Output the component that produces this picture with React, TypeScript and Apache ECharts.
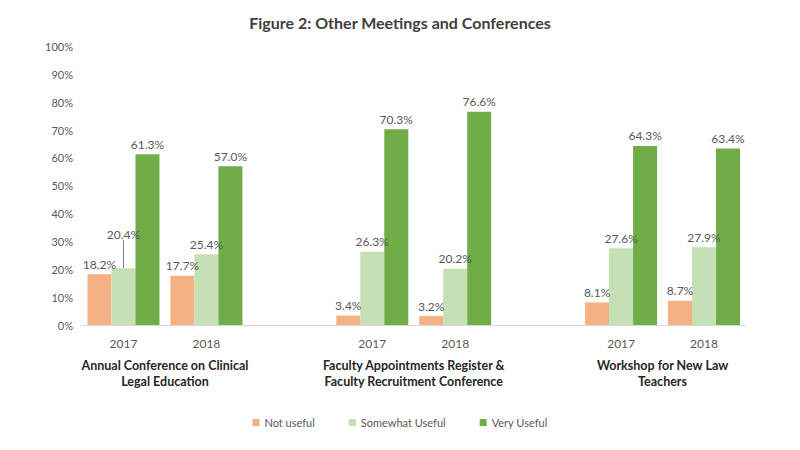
import React, { useEffect, useRef } from "react";
import * as echarts from "echarts";

const title = "Figure 2: Other Meetings and Conferences";
const groups = [
  "Annual Conference on Clinical\nLegal Education",
  "Faculty Appointments Register &\nFaculty Recruitment Conference",
  "Workshop for New Law\nTeachers",
];
const years = ["2017", "2018"];
const seriesNames = ["Not useful", "Somewhat Useful", "Very Useful"];
const notUseful = [18.2, 17.7, 3.4, 3.2, 8.1, 8.7];
const somewhatUseful = [20.4, 25.4, 26.3, 20.2, 27.6, 27.9];
const veryUseful = [61.3, 57.0, 70.3, 76.6, 64.3, 63.4];
const colors = ["#F4B183", "#C5E0B4", "#70AD47"];
const yTicks = [0, 10, 20, 30, 40, 50, 60, 70, 80, 90, 100];

function expand(vals: number[]): (number | null)[] {
  const out: (number | null)[] = [];
  groups.forEach((_, gi) => {
    years.forEach((_, yi) => out.push(vals[gi * years.length + yi]));
    if (gi < groups.length - 1) out.push(null);
  });
  return out;
}

const categories: string[] = [];
const groupPos: Record<number, string> = {};
groups.forEach((g, gi) => {
  const start = categories.length;
  years.forEach((y) => categories.push(y));
  groupPos[start + years.length / 2] = g;
  if (gi < groups.length - 1) categories.push("");
});

export default function App() {
  const ref = useRef<HTMLDivElement>(null);
  useEffect(() => {
    if (!ref.current) return;
    const chart = echarts.init(ref.current, null, { renderer: "svg" });
    const font = "Lato, 'Open Sans', sans-serif";
    const allVals = [notUseful, somewhatUseful, veryUseful];
    chart.setOption({
      animation: false,
      backgroundColor: "#ffffff",
      textStyle: { fontFamily: font },
      title: {
        text: title,
        left: "center",
        top: 9,
        textStyle: { fontSize: 16, fontWeight: "bold", color: "#404040", fontFamily: font },
      },
      grid: { left: 82, right: 54.5, top: 46.5, bottom: 125 },
      legend: {
        bottom: 17,
        left: "center",
        icon: "rect",
        itemWidth: 7,
        itemHeight: 7,
        itemGap: 34,
        textStyle: { fontSize: 11, color: "#595959", fontFamily: font },
        data: seriesNames,
      },
      xAxis: [
        {
          type: "category",
          data: categories,
          axisLine: { lineStyle: { color: "#d9d9d9" } },
          axisTick: { show: false },
          axisLabel: { color: "#595959", fontSize: 12, margin: 12, interval: 0, fontFamily: font },
        },
        {
          type: "value",
          position: "bottom",
          min: 0,
          max: categories.length,
          interval: 1,
          axisLine: { show: false },
          axisTick: { show: false },
          splitLine: { show: false },
          axisLabel: {
            margin: 32,
            fontSize: 12.5,
            fontWeight: "bold",
            color: "#262626",
            lineHeight: 16,
            align: "center",
            fontFamily: font,
            formatter: (v: number) => groupPos[v] || "",
          },
        },
      ],
      yAxis: {
        type: "value",
        min: 0,
        max: 100,
        interval: 10,
        axisLine: { show: false },
        axisTick: { show: false },
        splitLine: { show: false },
        axisLabel: {
          color: "#595959",
          fontSize: 11,
          margin: 9,
          fontFamily: font,
          formatter: (v: number) => (yTicks.includes(v) ? v + "%" : ""),
        },
      },
      series: seriesNames.map((name, si) => ({
        name,
        type: "bar",
        xAxisIndex: 0,
        data: expand(allVals[si]).map((v, i) =>
          si === 1 && i === 0
            ? { value: v, labelLine: { show: true, lineStyle: { color: "#7f7f7f", width: 1 } } }
            : v
        ),
        barWidth: 24,
        barGap: "0%",
        itemStyle: { color: colors[si] },
        label: {
          show: true,
          position: "top",
          distance: 4,
          color: "#595959",
          fontSize: 12,
          fontFamily: font,
          formatter: (p: any) => Number(p.value).toFixed(1) + "%",
        },
        labelLine: { show: false },
        labelLayout:
          si === 1
            ? (p: any) => (p.dataIndex === 0 ? { dy: -24 } : {})
            : undefined,
      })),
    });
    return () => chart.dispose();
  }, []);
  return (
    <div
      ref={ref}
      style={{ position: "fixed", left: 0, top: 0, width: 800, height: 450, background: "#fff" }}
    />
  );
}
